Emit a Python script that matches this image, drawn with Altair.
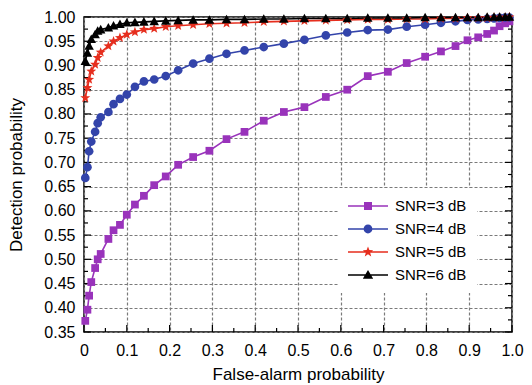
import math
import altair as alt
import pandas as pd

# ---------------- data ----------------
false_alarm = [0.003, 0.008, 0.012, 0.017, 0.026, 0.032, 0.039, 0.057, 0.069, 0.084,
               0.100, 0.119, 0.140, 0.164, 0.191, 0.220, 0.255, 0.293, 0.333, 0.375,
               0.420, 0.467, 0.515, 0.565, 0.615, 0.663, 0.710, 0.754, 0.797, 0.834,
               0.868, 0.896, 0.921, 0.942, 0.958, 0.971, 0.984, 0.994]

pd_snr3 = [0.373, 0.396, 0.425, 0.453, 0.482, 0.500, 0.511, 0.542, 0.560, 0.571,
           0.592, 0.613, 0.631, 0.653, 0.671, 0.695, 0.711, 0.724, 0.748, 0.763,
           0.786, 0.804, 0.814, 0.835, 0.850, 0.878, 0.887, 0.905, 0.918, 0.929,
           0.940, 0.952, 0.958, 0.965, 0.972, 0.981, 0.987, 0.991]

pd_snr4 = [0.668, 0.690, 0.723, 0.743, 0.763, 0.781, 0.793, 0.804, 0.820, 0.831,
           0.840, 0.856, 0.867, 0.871, 0.878, 0.890, 0.904, 0.914, 0.924, 0.931,
           0.938, 0.945, 0.953, 0.962, 0.968, 0.973, 0.974, 0.980, 0.984, 0.988,
           0.991, 0.994, 0.995, 0.996, 0.997, 0.998, 0.999, 0.999]

pd_snr5 = [0.833, 0.854, 0.871, 0.888, 0.902, 0.916, 0.927, 0.940, 0.950, 0.957,
           0.964, 0.969, 0.974, 0.976, 0.980, 0.982, 0.984, 0.986, 0.987, 0.988,
           0.990, 0.991, 0.992, 0.993, 0.994, 0.995, 0.995, 0.996, 0.996, 0.997,
           0.997, 0.998, 0.998, 0.998, 0.999, 0.999, 0.999, 1.000]

pd_snr6 = [0.909, 0.926, 0.940, 0.954, 0.964, 0.971, 0.974, 0.978, 0.982, 0.985,
           0.988, 0.989, 0.990, 0.991, 0.992, 0.993, 0.994, 0.994, 0.995, 0.995,
           0.996, 0.996, 0.997, 0.997, 0.997, 0.998, 0.998, 0.998, 0.999, 0.999,
           0.999, 0.999, 0.999, 1.000, 1.000, 1.000, 1.000, 1.000]

series_names = ["SNR=3 dB", "SNR=4 dB", "SNR=5 dB", "SNR=6 dB"]
series_values = [pd_snr3, pd_snr4, pd_snr5, pd_snr6]

x_ticks = [0, 0.1, 0.2, 0.3, 0.4, 0.5, 0.6, 0.7, 0.8, 0.9, 1.0]
y_ticks = [0.35, 0.40, 0.45, 0.50, 0.55, 0.60, 0.65, 0.70, 0.75, 0.80,
           0.85, 0.90, 0.95, 1.00]

# ---------------- styling ----------------
FONT = "Liberation Sans"
W, H = 428, 315
colors = ["#9933BB", "#3344AA", "#E62E1E", "#000000"]


def star_path(cx, ro, ri):
    pts = []
    for k in range(10):
        a = -math.pi / 2 + k * math.pi / 5
        r = ro if k % 2 == 0 else ri
        pts.append((cx + r * math.cos(a), r * math.sin(a)))
    return "M" + " L".join(f"{x:.3f},{y:.3f}" for x, y in pts) + " Z"


# marker shapes for the data points (unit box -1..1)
shapes = [
    "M-1,-1 L1,-1 L1,1 L-1,1 Z",
    "M-1,0 A1,1 0 1,1 1,0 A1,1 0 1,1 -1,0 Z",
    star_path(0, 1.0, 0.42),
    "M0,-1 L1,0.8 L-1,0.8 Z",
]
sizes = [60, 76, 110, 90]

line_seg = "M-1,-0.1 L4,-0.1 L4,0.1 L-1,0.1 Z "
legend_paths = [
    line_seg + "M1,-0.5 L2,-0.5 L2,0.5 L1,0.5 Z",
    line_seg + "M0.95,0 A0.55,0.55 0 1,1 2.05,0 A0.55,0.55 0 1,1 0.95,0 Z",
    line_seg + star_path(1.5, 0.68, 0.29),
    line_seg + "M1.5,-0.62 L2.15,0.48 L0.85,0.48 Z",
]

rows = []
for name, ys in zip(series_names, series_values):
    for xv, yv in zip(false_alarm, ys):
        rows.append({"fa": xv, "pd": yv, "series": name})
df = pd.DataFrame(rows)

xscale = alt.Scale(domain=[0, 1], nice=False, zero=False)
yscale = alt.Scale(domain=[0.35, 1.0], nice=False, zero=False)

x_axis = alt.Axis(
    title="False-alarm probability", values=x_ticks,
    labelExpr="datum.value == 0 ? '0' : format(datum.value, '.1f')",
    labelPadding=10, titlePadding=8, labelFlush=False,
)
y_axis = alt.Axis(
    title="Detection probability", values=y_ticks, format=".2f",
    labelPadding=9, titlePadding=18, labelFlush=False,
)

layers = []
for i, (name, col) in enumerate(zip(series_names, colors)):
    layers.append(
        alt.Chart(df).transform_filter(alt.datum.series == name)
        .mark_line(color=col, strokeWidth=1.6)
        .encode(
            x=alt.X("fa:Q", scale=xscale, axis=x_axis),
            y=alt.Y("pd:Q", scale=yscale, axis=y_axis),
        )
    )
for i, (name, col) in enumerate(zip(series_names, colors)):
    layers.append(
        alt.Chart(df).transform_filter(alt.datum.series == name)
        .mark_point(shape=shapes[i], filled=True, size=sizes[i], color=col, opacity=1)
        .encode(
            x=alt.X("fa:Q", scale=xscale, axis=x_axis),
            y=alt.Y("pd:Q", scale=yscale, axis=y_axis),
        )
    )

legend_kw = dict(
    title=None, orient="none", legendX=254, legendY=171,
    fillColor="white", padding=10, symbolSize=256,
    symbolStrokeWidth=0, symbolOpacity=1,
    labelFont=FONT, labelFontSize=15, labelColor="black",
    labelOffset=31, rowPadding=7,
)
legend_layer = (
    alt.Chart(df).transform_filter("false")
    .mark_point(filled=True, opacity=1)
    .encode(
        x=alt.X("fa:Q", scale=xscale, axis=x_axis),
        y=alt.Y("pd:Q", scale=yscale, axis=y_axis),
        color=alt.Color("series:N", scale=alt.Scale(domain=series_names, range=colors),
                        legend=alt.Legend(**legend_kw)),
        shape=alt.Shape("series:N", scale=alt.Scale(domain=series_names, range=legend_paths),
                        legend=alt.Legend(**legend_kw)),
    )
)

# inward tick marks
minor_y = [(a + b) / 2 for a, b in zip(y_ticks[:-1], y_ticks[1:])]
minor_x = [(a + b) / 2 for a, b in zip(x_ticks[:-1], x_ticks[1:])]


def yticks(vals, x0, x1):
    return alt.Chart(pd.DataFrame({"pd": vals})).mark_rule(color="black", strokeWidth=1.2).encode(
        y=alt.Y("pd:Q", scale=yscale, axis=y_axis), x=alt.value(x0), x2=alt.value(x1))


def xticks(vals, y0, y1):
    return alt.Chart(pd.DataFrame({"fa": vals})).mark_rule(color="black", strokeWidth=1.2).encode(
        x=alt.X("fa:Q", scale=xscale, axis=x_axis), y=alt.value(y0), y2=alt.value(y1))


tick_layers = [
    yticks(y_ticks, 0, 7), yticks(minor_y, 0, 4),
    yticks(y_ticks, W - 7, W), yticks(minor_y, W - 4, W),
    xticks(x_ticks, H, H - 7), xticks(minor_x, H, H - 4),
]

chart = (
    alt.layer(*tick_layers, *layers, legend_layer)
    .properties(width=W, height=H, autosize=alt.AutoSizeParams(type="none"),
                padding={"left": 84, "top": 17, "right": 20, "bottom": 53})
    .configure_view(stroke="black", strokeWidth=1.5)
    .configure_axis(
        labelFont=FONT, labelFontSize=16, labelColor="black",
        titleFont=FONT, titleFontSize=17, titleFontWeight="normal", titleColor="black",
        grid=True, gridColor="#7a7a7a", gridDash=[3, 2], gridWidth=1.2,
        ticks=False, tickSize=0, domain=False,
    )
)

chart.save("out.html", embed_options={"renderer": "svg", "actions": False})
